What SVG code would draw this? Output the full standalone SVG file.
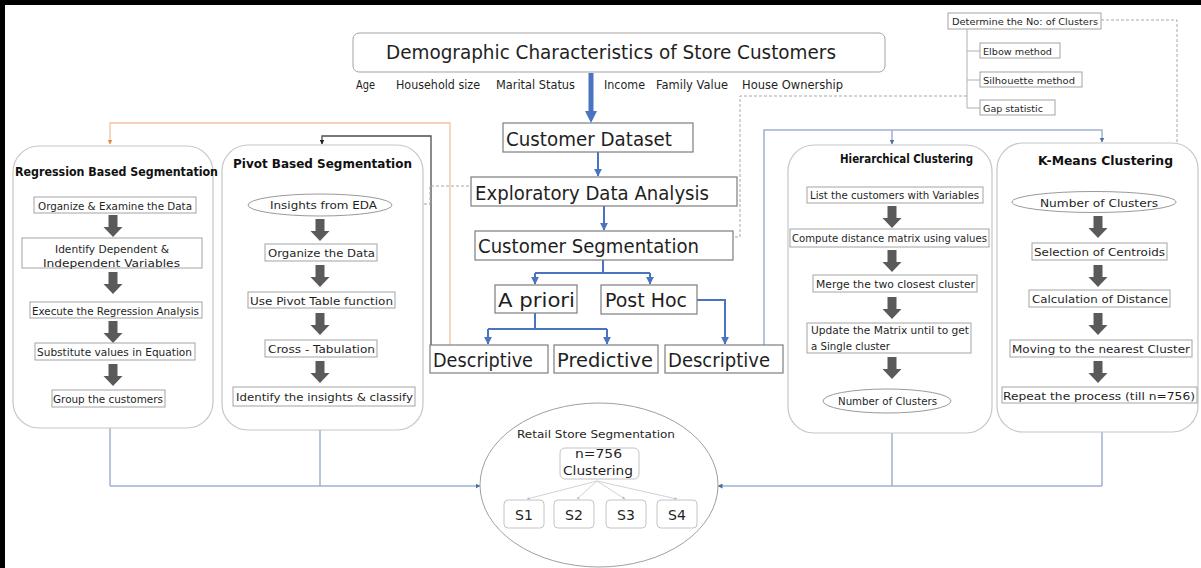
<svg xmlns="http://www.w3.org/2000/svg" xmlns:xlink="http://www.w3.org/1999/xlink" width="1201" height="568" viewBox="0 0 1201 568">
  <style>
    text { font-family: "DejaVu Sans", "Noto Sans", sans-serif; fill: #1f1f1f; }
    .big { font-size: 19px; }
    .attr { font-size: 11.5px; }
    .sm { font-size: 11px; }
    .xs { font-size: 9.5px; }
    .hd { font-size: 12px; font-weight: bold; fill: #111; }
    .box { fill: #fff; stroke: #a3a3a3; stroke-width: 1; }
    .cbox { fill: #fff; stroke: #7d7d7d; stroke-width: 1.2; }
    .panel { fill: #fff; stroke: #c6c6c6; stroke-width: 1.2; }
    .ell { fill: #fff; stroke: #9a9a9a; stroke-width: 1; }
    .blue { fill: none; stroke: #4a74c0; stroke-width: 2; }
    .orange { fill: none; stroke: #f2c4a0; stroke-width: 1.3; }
    .dark { fill: none; stroke: #4d4d4d; stroke-width: 1.3; }
    .gblue { fill: none; stroke: #9fb2d0; stroke-width: 1.5; }
    .dash { fill: none; stroke: #a8a8a8; stroke-width: 1; stroke-dasharray: 3 2; }
    .tree { fill: none; stroke: #b0b0b0; stroke-width: 1; }
    .thin { fill: none; stroke: #cfd3da; stroke-width: 1; }
  </style>
  <defs>
    <!-- thick grey step arrow used inside the panels -->
    <path id="step" d="M-4.5,0 H4.5 V12 H9.5 L0,22 L-9.5,12 H-4.5 Z" fill="#5a5a5a"/>
    <marker id="mBlue" viewBox="0 0 10 10" refX="9" refY="5" markerWidth="4" markerHeight="4" orient="auto">
      <path d="M0,0 L10,5 L0,10 Z" fill="#4a74c0"/>
    </marker>
    <marker id="mOrange" viewBox="0 0 10 10" refX="9" refY="5" markerWidth="5" markerHeight="5" orient="auto" markerUnits="userSpaceOnUse">
      <path d="M0,0 L10,5 L0,10 Z" fill="#e8894a"/>
    </marker>
    <marker id="mDark" viewBox="0 0 10 10" refX="9" refY="5" markerWidth="5" markerHeight="5" orient="auto" markerUnits="userSpaceOnUse">
      <path d="M0,0 L10,5 L0,10 Z" fill="#222"/>
    </marker>
    <marker id="mGblue" viewBox="0 0 10 10" refX="9" refY="5" markerWidth="5" markerHeight="5" orient="auto" markerUnits="userSpaceOnUse">
      <path d="M0,0 L10,5 L0,10 Z" fill="#4a6fa8"/>
    </marker>
    <marker id="mThin" viewBox="0 0 10 10" refX="9" refY="5" markerWidth="3" markerHeight="3" orient="auto" markerUnits="userSpaceOnUse">
      <path d="M0,0 L10,5 L0,10 Z" fill="#b8bcc4"/>
    </marker>
  </defs>

  <rect x="0" y="0" width="1201" height="568" fill="#fff"/>
  <!-- frame -->
  <rect x="0" y="0" width="1201" height="5" fill="#000"/>
  <rect x="0" y="0" width="5" height="568" fill="#000"/>

  <!-- connectors -->
  <g id="connectors">
    <!-- main vertical flow -->
    <line x1="591" y1="73" x2="591" y2="112" stroke="#4a74c0" stroke-width="5"/>
    <path d="M585,111 L597,111 L591,123 Z" fill="#4a74c0"/>
    <line class="blue" x1="598" y1="152" x2="598" y2="176" marker-end="url(#mBlue)"/>
    <line class="blue" x1="604" y1="206" x2="604" y2="230" marker-end="url(#mBlue)"/>
    <path class="blue" d="M603,260 V273 M535,273 H650"/>
    <line class="blue" x1="535" y1="273" x2="535" y2="284" marker-end="url(#mBlue)"/>
    <line class="blue" x1="650" y1="273" x2="650" y2="284" marker-end="url(#mBlue)"/>
    <path class="blue" d="M535,313 V329 M488,329 H607"/>
    <line class="blue" x1="488" y1="329" x2="488" y2="344" marker-end="url(#mBlue)"/>
    <line class="blue" x1="607" y1="329" x2="607" y2="344" marker-end="url(#mBlue)"/>
    <path class="blue" d="M697,300 H725 V344" marker-end="url(#mBlue)"/>

    <!-- a priori descriptive to the two left methods -->
    <path class="orange" d="M450,345 V123 H110 V144" marker-end="url(#mOrange)"/>
    <path class="dark" d="M431,345 V136 H322 V144" marker-end="url(#mDark)"/>
    <!-- post hoc descriptive to the two clustering methods -->
    <path class="gblue" d="M764,345 V130 H1102 V142" marker-end="url(#mGblue)"/>
    <line class="gblue" x1="892" y1="130" x2="892" y2="144" marker-end="url(#mGblue)"/>

    <!-- dotted links -->
    <path class="dash" d="M394,204 H430 V186 H471"/>
    <path class="dash" d="M705,237 H740 V96 H967"/>
    <path class="dash" d="M1101,20 H1177 V198"/>

    <!-- cluster count tree -->
    <path class="tree" d="M967,29 V108 M967,51 H980 M967,80 H980 M967,108 H980"/>

    <!-- method panels to the result -->
    <path class="gblue" d="M110,428 V486 M320,430 V486"/>
    <line class="gblue" x1="110" y1="486" x2="480" y2="486" marker-end="url(#mGblue)"/>
    <path class="gblue" d="M892,433 V486 M1102,432 V486"/>
    <line class="gblue" x1="1102" y1="486" x2="718" y2="486" marker-end="url(#mGblue)"/>
  </g>

  <!-- demographic header -->
  <g id="demographics">
    <rect class="box" x="353" y="33" width="532" height="39" rx="6" stroke="#b0b0b0"/>
    <text class="big" x="611" y="59" text-anchor="middle" textLength="450" lengthAdjust="spacingAndGlyphs">Demographic Characteristics of Store Customers</text>
    <text class="attr" x="365.5" y="89" text-anchor="middle" textLength="19" lengthAdjust="spacingAndGlyphs">Age</text>
    <text class="attr" x="438" y="89" text-anchor="middle" textLength="84" lengthAdjust="spacingAndGlyphs">Household size</text>
    <text class="attr" x="535.5" y="89" text-anchor="middle" textLength="79" lengthAdjust="spacingAndGlyphs">Marital Status</text>
    <text class="attr" x="624.5" y="89" text-anchor="middle" textLength="41" lengthAdjust="spacingAndGlyphs">Income</text>
    <text class="attr" x="692" y="89" text-anchor="middle" textLength="72" lengthAdjust="spacingAndGlyphs">Family Value</text>
    <text class="attr" x="792.5" y="89" text-anchor="middle" textLength="101" lengthAdjust="spacingAndGlyphs">House Ownership</text>
  </g>

  <!-- number of clusters methods -->
  <g id="cluster-count">
    <rect class="box" x="948" y="13" width="153" height="16"/>
    <text class="xs" x="1025" y="25" text-anchor="middle" textLength="146" lengthAdjust="spacingAndGlyphs">Determine the No: of Clusters</text>
    <rect class="box" x="980" y="43" width="80" height="15"/>
    <text class="xs" x="983" y="54.5" textLength="69" lengthAdjust="spacingAndGlyphs">Elbow method</text>
    <rect class="box" x="980" y="72" width="102" height="15"/>
    <text class="xs" x="983" y="83.5" textLength="92" lengthAdjust="spacingAndGlyphs">Silhouette method</text>
    <rect class="box" x="980" y="100" width="75" height="15"/>
    <text class="xs" x="983" y="111.5" textLength="60" lengthAdjust="spacingAndGlyphs">Gap statistic</text>
  </g>

  <!-- central flow -->
  <g id="customer-dataset">
    <rect class="cbox" x="503" y="123" width="190" height="29"/>
    <text class="big" x="506" y="146" textLength="166" lengthAdjust="spacingAndGlyphs">Customer Dataset</text>
  </g>
  <g id="eda">
    <rect class="cbox" x="471" y="177" width="266" height="29"/>
    <text class="big" x="475" y="200" textLength="234" lengthAdjust="spacingAndGlyphs">Exploratory Data Analysis</text>
  </g>
  <g id="customer-segmentation">
    <rect class="cbox" x="475" y="231" width="258" height="29"/>
    <text class="big" x="478" y="253" textLength="221" lengthAdjust="spacingAndGlyphs">Customer Segmentation</text>
  </g>
  <g id="a-priori">
    <rect class="cbox" x="495" y="285" width="82" height="28"/>
    <text class="big" x="498" y="307" textLength="77" lengthAdjust="spacingAndGlyphs">A priori</text>
  </g>
  <g id="post-hoc">
    <rect class="cbox" x="601" y="285" width="96" height="29"/>
    <text class="big" x="605" y="307" textLength="82" lengthAdjust="spacingAndGlyphs">Post Hoc</text>
  </g>
  <g id="descriptive-a">
    <rect class="cbox" x="430" y="345" width="118" height="28"/>
    <text class="big" x="433" y="367" textLength="100" lengthAdjust="spacingAndGlyphs">Descriptive</text>
  </g>
  <g id="predictive">
    <rect class="cbox" x="554" y="345" width="104" height="28"/>
    <text class="big" x="557" y="367" textLength="96" lengthAdjust="spacingAndGlyphs">Predictive</text>
  </g>
  <g id="descriptive-b">
    <rect class="cbox" x="665" y="345" width="118" height="28"/>
    <text class="big" x="668" y="367" textLength="102" lengthAdjust="spacingAndGlyphs">Descriptive</text>
  </g>

  <!-- regression based segmentation -->
  <g id="regression">
    <rect class="panel" x="13" y="146" width="200" height="282" rx="26"/>
    <text class="hd" x="116.5" y="176" text-anchor="middle" textLength="203" lengthAdjust="spacingAndGlyphs">Regression Based Segmentation</text>
    <rect class="box" x="34" y="197" width="162" height="16"/>
    <text class="sm" x="115" y="209.5" text-anchor="middle" textLength="154" lengthAdjust="spacingAndGlyphs">Organize &amp; Examine the Data</text>
    <use xlink:href="#step" x="113" y="215"/>
    <rect class="box" x="22" y="238" width="180" height="30"/>
    <text class="sm" x="112" y="253" text-anchor="middle" textLength="114" lengthAdjust="spacingAndGlyphs">Identify Dependent &amp;</text>
    <text class="sm" x="111.5" y="267" text-anchor="middle" textLength="137" lengthAdjust="spacingAndGlyphs">Independent Variables</text>
    <use xlink:href="#step" x="113" y="272"/>
    <rect class="box" x="30" y="302" width="172" height="16"/>
    <text class="sm" x="115.5" y="314.5" text-anchor="middle" textLength="167" lengthAdjust="spacingAndGlyphs">Execute the Regression Analysis</text>
    <use xlink:href="#step" x="113" y="321"/>
    <rect class="box" x="35" y="343" width="160" height="17"/>
    <text class="sm" x="114.5" y="356" text-anchor="middle" textLength="155" lengthAdjust="spacingAndGlyphs">Substitute values in Equation</text>
    <use xlink:href="#step" x="113" y="364"/>
    <rect class="box" x="52" y="390" width="113" height="17"/>
    <text class="sm" x="108" y="403" text-anchor="middle" textLength="110" lengthAdjust="spacingAndGlyphs">Group the customers</text>
  </g>

  <!-- pivot based segmentation -->
  <g id="pivot">
    <rect class="panel" x="222" y="145" width="201" height="285" rx="26"/>
    <text class="hd" x="322.5" y="168" text-anchor="middle" textLength="179" lengthAdjust="spacingAndGlyphs">Pivot Based Segmentation</text>
    <ellipse class="ell" cx="320" cy="205" rx="72" ry="11"/>
    <text class="sm" x="323.5" y="209" text-anchor="middle" textLength="107" lengthAdjust="spacingAndGlyphs">Insights from EDA</text>
    <use xlink:href="#step" x="320" y="219"/>
    <rect class="box" x="265" y="244" width="112" height="17"/>
    <text class="sm" x="321.5" y="257" text-anchor="middle" textLength="107" lengthAdjust="spacingAndGlyphs">Organize the Data</text>
    <use xlink:href="#step" x="320" y="265"/>
    <rect class="box" x="248" y="292" width="147" height="16"/>
    <text class="sm" x="321.5" y="304.5" text-anchor="middle" textLength="143" lengthAdjust="spacingAndGlyphs">Use Pivot Table function</text>
    <use xlink:href="#step" x="320" y="313"/>
    <rect class="box" x="265" y="340" width="112" height="17"/>
    <text class="sm" x="321.5" y="353" text-anchor="middle" textLength="107" lengthAdjust="spacingAndGlyphs">Cross - Tabulation</text>
    <use xlink:href="#step" x="320" y="361"/>
    <rect class="box" x="233" y="387" width="182" height="19"/>
    <text class="sm" x="324.5" y="401" text-anchor="middle" textLength="177" lengthAdjust="spacingAndGlyphs">Identify the insights &amp; classify</text>
  </g>

  <!-- hierarchical clustering -->
  <g id="hierarchical">
    <rect class="panel" x="788" y="145" width="204" height="288" rx="26"/>
    <text class="hd" x="906.5" y="163" text-anchor="middle" textLength="133" lengthAdjust="spacingAndGlyphs">Hierarchical Clustering</text>
    <rect class="box" x="807" y="187" width="176" height="16"/>
    <text class="sm" x="894.5" y="199" text-anchor="middle" textLength="169" lengthAdjust="spacingAndGlyphs">List the customers with Variables</text>
    <use xlink:href="#step" x="892" y="206"/>
    <rect class="box" x="790" y="229" width="199" height="18"/>
    <text class="sm" x="889.5" y="242" text-anchor="middle" textLength="195" lengthAdjust="spacingAndGlyphs">Compute distance matrix using values</text>
    <use xlink:href="#step" x="892" y="250"/>
    <rect class="box" x="813" y="275" width="164" height="17"/>
    <text class="sm" x="895.5" y="288" text-anchor="middle" textLength="159" lengthAdjust="spacingAndGlyphs">Merge the two closest cluster</text>
    <use xlink:href="#step" x="892" y="297"/>
    <rect class="box" x="807" y="323" width="164" height="30"/>
    <text class="sm" x="811" y="334" textLength="158" lengthAdjust="spacingAndGlyphs">Update the Matrix until to get</text>
    <text class="sm" x="811" y="350" textLength="79" lengthAdjust="spacingAndGlyphs">a Single cluster</text>
    <use xlink:href="#step" x="892" y="357"/>
    <ellipse class="ell" cx="887" cy="401" rx="64" ry="12"/>
    <text class="sm" x="887.5" y="405" text-anchor="middle" textLength="99" lengthAdjust="spacingAndGlyphs">Number of Clusters</text>
  </g>

  <!-- k-means clustering -->
  <g id="kmeans">
    <rect class="panel" x="997" y="143" width="201" height="289" rx="26"/>
    <text class="hd" x="1105.5" y="165" text-anchor="middle" textLength="135" lengthAdjust="spacingAndGlyphs">K-Means Clustering</text>
    <ellipse class="ell" cx="1094" cy="202" rx="82" ry="10.5"/>
    <text class="sm" x="1099" y="206.5" text-anchor="middle" textLength="118" lengthAdjust="spacingAndGlyphs">Number of Clusters</text>
    <use xlink:href="#step" x="1098" y="216"/>
    <rect class="box" x="1032" y="243" width="135" height="17"/>
    <text class="sm" x="1099.5" y="256" text-anchor="middle" textLength="131" lengthAdjust="spacingAndGlyphs">Selection of Centroids</text>
    <use xlink:href="#step" x="1098" y="265"/>
    <rect class="box" x="1029" y="290" width="141" height="17"/>
    <text class="sm" x="1100" y="303" text-anchor="middle" textLength="136" lengthAdjust="spacingAndGlyphs">Calculation of Distance</text>
    <use xlink:href="#step" x="1098" y="313"/>
    <rect class="box" x="1010" y="340" width="182" height="17"/>
    <text class="sm" x="1101" y="353" text-anchor="middle" textLength="178" lengthAdjust="spacingAndGlyphs">Moving to the nearest Cluster</text>
    <use xlink:href="#step" x="1098" y="361"/>
    <rect class="box" x="1002" y="387" width="195" height="16"/>
    <text class="sm" x="1099" y="399.5" text-anchor="middle" textLength="192" lengthAdjust="spacingAndGlyphs">Repeat the process (till n=756)</text>
  </g>

  <!-- retail store segmentation result -->
  <g id="retail-segmentation">
    <ellipse cx="599" cy="485" rx="119" ry="82" fill="#fff" stroke="#a0a0a0" stroke-width="1"/>
    <text class="sm" x="596" y="438" text-anchor="middle" textLength="158" lengthAdjust="spacingAndGlyphs">Retail Store Segmentation</text>
    <rect x="560" y="448" width="79" height="31" rx="5" fill="#fff" stroke="#c4c4c4"/>
    <text x="598.5" y="458" font-size="13" text-anchor="middle" textLength="47" lengthAdjust="spacingAndGlyphs">n=756</text>
    <text x="598" y="475" font-size="13" text-anchor="middle" textLength="70" lengthAdjust="spacingAndGlyphs">Clustering</text>
    <g class="thin">
      <line x1="597" y1="481" x2="527" y2="499" marker-end="url(#mThin)"/>
      <line x1="597" y1="481" x2="577" y2="499" marker-end="url(#mThin)"/>
      <line x1="597" y1="481" x2="625" y2="499" marker-end="url(#mThin)"/>
      <line x1="597" y1="481" x2="677" y2="499" marker-end="url(#mThin)"/>
    </g>
    <g id="s1">
      <rect x="504" y="500" width="40" height="28" rx="4" fill="#fff" stroke="#c4c4c4"/>
      <text x="524" y="520" font-size="14" text-anchor="middle">S1</text>
    </g>
    <g id="s2">
      <rect x="554" y="500" width="40" height="28" rx="4" fill="#fff" stroke="#c4c4c4"/>
      <text x="574" y="520" font-size="14" text-anchor="middle">S2</text>
    </g>
    <g id="s3">
      <rect x="606" y="500" width="40" height="28" rx="4" fill="#fff" stroke="#c4c4c4"/>
      <text x="626" y="520" font-size="14" text-anchor="middle">S3</text>
    </g>
    <g id="s4">
      <rect x="657" y="500" width="40" height="28" rx="4" fill="#fff" stroke="#c4c4c4"/>
      <text x="677" y="520" font-size="14" text-anchor="middle">S4</text>
    </g>
  </g>
</svg>
